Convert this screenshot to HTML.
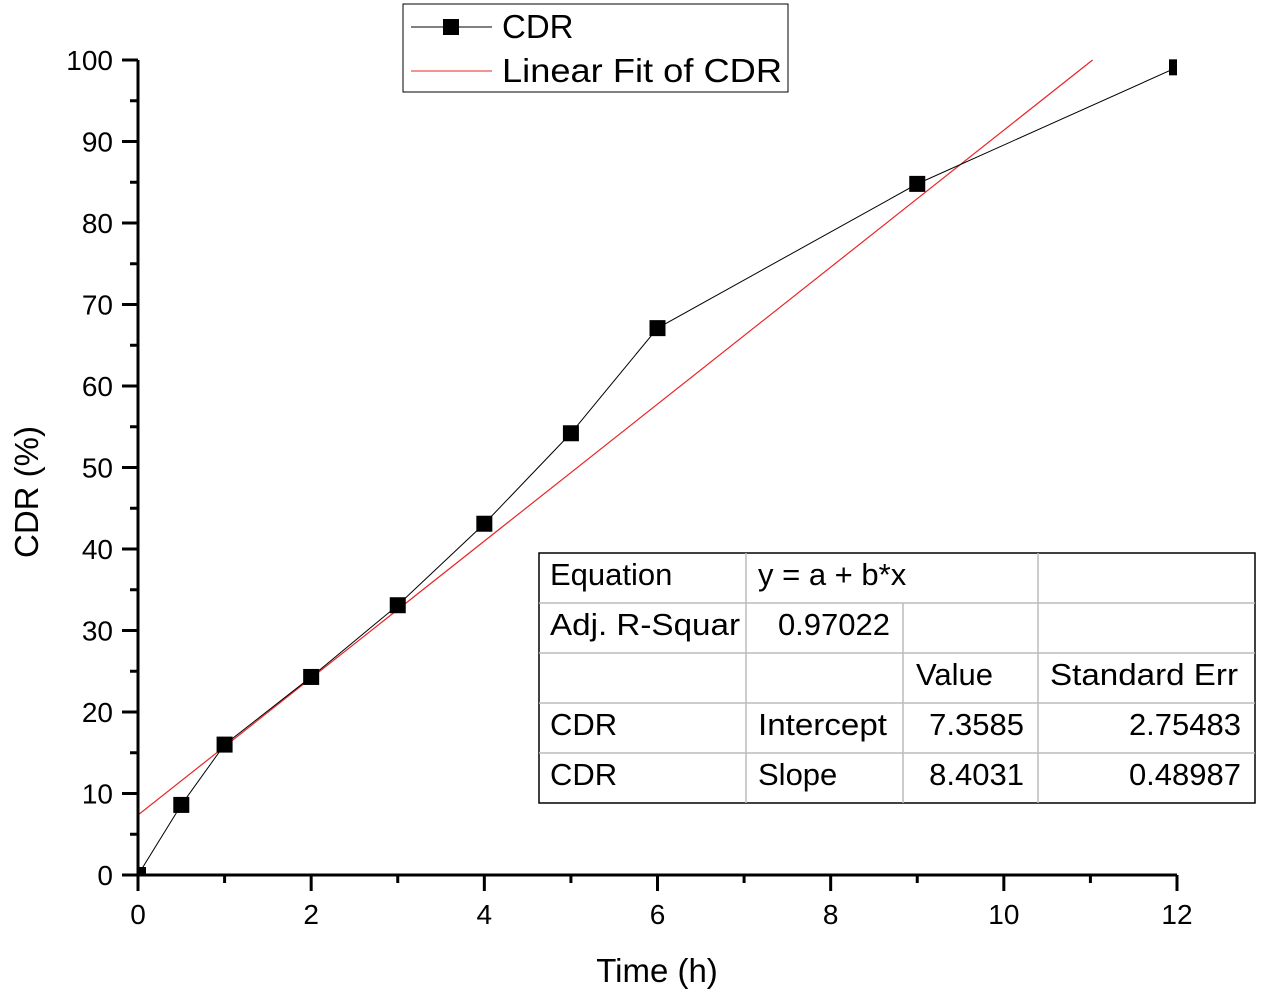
<!DOCTYPE html>
<html><head><meta charset="utf-8"><style>
body{margin:0;background:#fff;}
svg{display:block;font-family:"Liberation Sans",Arial,sans-serif;}
</style></head><body>
<svg id="chart" width="1265" height="993" viewBox="0 0 1265 993">
<defs><clipPath id="plotclip"><rect x="138" y="0" width="1039" height="875"/></clipPath></defs>
<g id="grid"></g>
<g id="fit" clip-path="url(#plotclip)"></g>
<g id="series" clip-path="url(#plotclip)"></g>
<g id="axes"></g>
<text x="657" y="982" font-size="33" text-anchor="middle">Time (h)</text>
<text transform="translate(38,492) rotate(-90)" font-size="33" text-anchor="middle">CDR (%)</text>
<g>
<rect x="403" y="4" width="385" height="88" fill="#fff" stroke="#000" stroke-width="1"/>
<line x1="411" y1="27" x2="492" y2="27" stroke="#000" stroke-width="1"/>
<rect x="443" y="19" width="16" height="16" fill="#000"/>
<text x="502" y="38" font-size="33">CDR</text>
<line x1="411" y1="71" x2="492" y2="71" stroke="#e8262a" stroke-width="1"/>
<text x="502" y="82" font-size="33" textLength="280" lengthAdjust="spacingAndGlyphs">Linear Fit of CDR</text>
</g>
<g font-size="31">
<rect x="539" y="553" width="716" height="250" fill="#fff" stroke="#000" stroke-width="1.5"/>
<g stroke="#bbb" stroke-width="1.5">
<line x1="539" y1="603" x2="1255" y2="603"/><line x1="539" y1="653" x2="1255" y2="653"/>
<line x1="539" y1="703" x2="1255" y2="703"/><line x1="539" y1="753" x2="1255" y2="753"/>
<line x1="746" y1="553" x2="746" y2="803"/><line x1="903" y1="603" x2="903" y2="803"/>
<line x1="1038" y1="553" x2="1038" y2="803"/>
</g>
<text x="550" y="585">Equation</text><text x="758" y="585">y = a + b*x</text>
<text x="550" y="635" textLength="190" lengthAdjust="spacingAndGlyphs">Adj. R-Squar</text><text x="890" y="635" text-anchor="end">0.97022</text>
<text x="916" y="685">Value</text><text x="1050" y="685" textLength="188" lengthAdjust="spacingAndGlyphs">Standard Err</text>
<text x="550" y="735">CDR</text><text x="758" y="735" textLength="129" lengthAdjust="spacingAndGlyphs">Intercept</text><text x="1024" y="735" text-anchor="end">7.3585</text><text x="1241" y="735" text-anchor="end">2.75483</text>
<text x="550" y="785">CDR</text><text x="758" y="785">Slope</text><text x="1024" y="785" text-anchor="end">8.4031</text><text x="1241" y="785" text-anchor="end">0.48987</text>
</g>
</svg>
<script>
const timesH = [0, 0.5, 1, 2, 3, 4, 5, 6, 9, 12];
const cdrValues = [0, 8.6, 16.0, 24.3, 33.1, 43.1, 54.2, 67.1, 84.8, 99.1];
const fitIntercept = 7.3585;
const fitSlope = 8.4031;
const xTicks = [0, 2, 4, 6, 8, 10, 12];
const yTicks = [0, 10, 20, 30, 40, 50, 60, 70, 80, 90, 100];
const NS = "http://www.w3.org/2000/svg";
const X0 = 138, X1 = 1177, Y0 = 875, Y1 = 60;
function xs(v){ return X0 + (v - 0) / 12 * (X1 - X0); }
function ys(v){ return Y0 - (v - 0) / 100 * (Y0 - Y1); }
function mk(tag, attrs, parent){ const e = document.createElementNS(NS, tag); for (const k in attrs) e.setAttribute(k, attrs[k]); parent.appendChild(e); return e; }
const axes = document.getElementById('axes');
const l1 = mk('line', {x1:X0, y1:Y0, x2:X1, y2:Y0, stroke:'#000', 'stroke-width':3}, axes);


const l2 = mk('line', {x1:X0, y1:Y0, x2:X0, y2:Y1, stroke:'#000', 'stroke-width':3}, axes);


for (let v = 0; v <= 12; v += 1) {
  const major = v % 2 === 0;
  mk('line', {x1:xs(v), y1:Y0, x2:xs(v), y2:Y0 + (major ? 16 : 8), stroke:'#000', 'stroke-width':3}, axes);
}
xTicks.forEach(v => {
  const t = mk('text', {x:xs(v), y:924, 'font-size':28, 'text-anchor':'middle'}, axes);
  t.textContent = v;
  
  
});
for (let v = 0; v <= 100; v += 5) {
  const major = v % 10 === 0;
  mk('line', {x1:X0, y1:ys(v), x2:X0 - (major ? 16 : 8), y2:ys(v), stroke:'#000', 'stroke-width':3}, axes);
}
yTicks.forEach(v => {
  const t = mk('text', {x:113, y:ys(v) + 10, 'font-size':28, 'text-anchor':'end'}, axes);
  t.textContent = v;
  
  
});
const fitG = document.getElementById('fit');
const xEnd = (100 - fitIntercept) / fitSlope;
const fl = mk('line', {x1:xs(0), y1:ys(fitIntercept), x2:xs(xEnd), y2:ys(100), stroke:'#e8262a', 'stroke-width':1.2}, fitG);


const sg = document.getElementById('series');
const pl = mk('polyline', {points: timesH.map((t,i)=>xs(t)+','+ys(cdrValues[i])).join(' '), fill:'none', stroke:'#000', 'stroke-width':1}, sg);


timesH.forEach((t,i) => {
  const r = mk('rect', {x:xs(t)-8, y:ys(cdrValues[i])-8, width:16, height:16, fill:'#000'}, sg);
  
  
});
</script>
</body></html>
